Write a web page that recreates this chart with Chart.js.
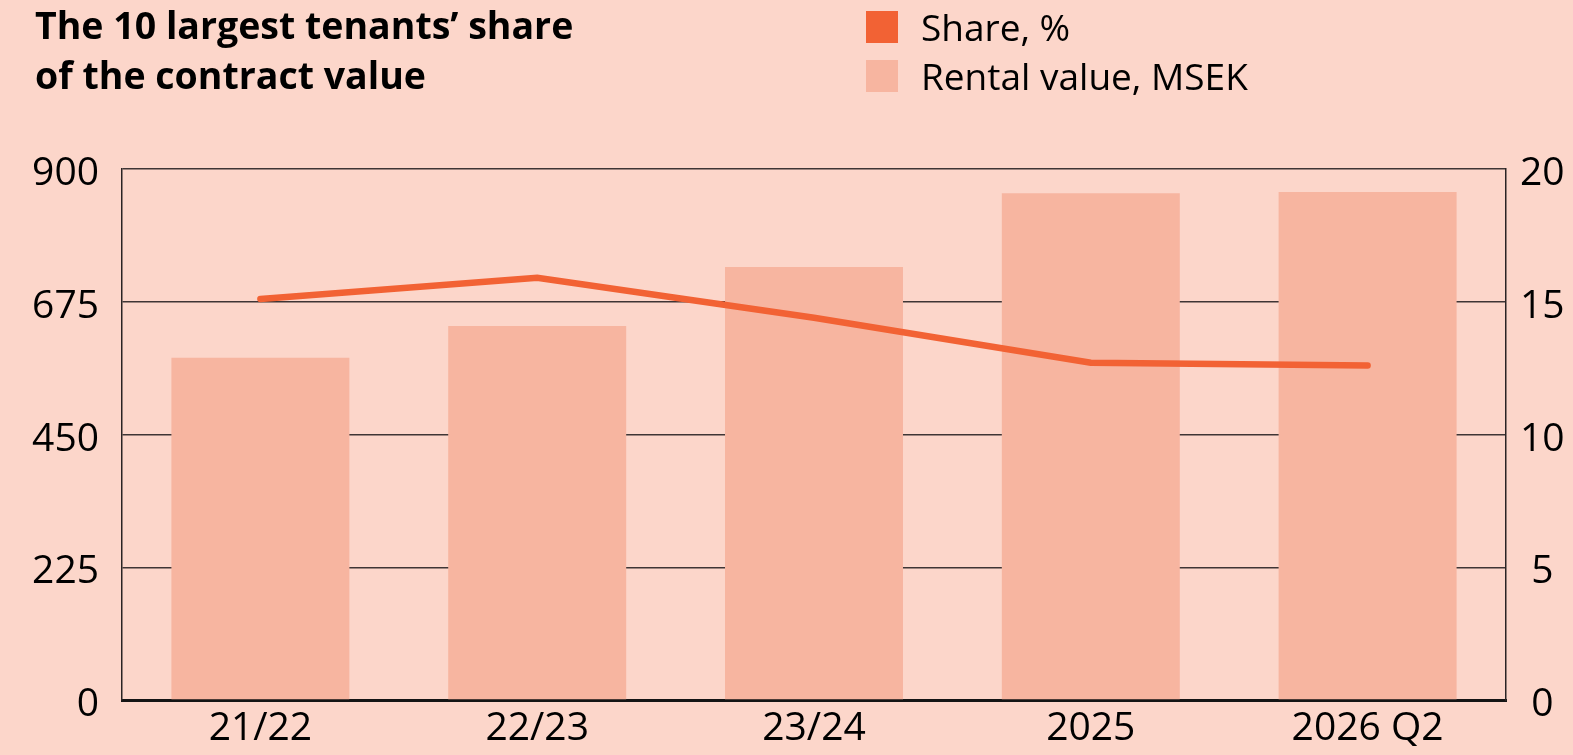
<!DOCTYPE html>
<html>
<head>
<meta charset="utf-8">
<script src="https://cdn.jsdelivr.net/npm/chart.js@4.4.1/dist/chart.umd.min.js"></script>
<style>
  html, body { margin: 0; padding: 0; background: #FCD6CA; }
  #wrap { position: relative; width: 1573px; height: 755px; overflow: hidden; }
  #c { position: absolute; left: 0; top: 0; }
  #title { position: absolute; left: 35px; top: 0px; font-family: "Open Sans", sans-serif; font-weight: 700;
           font-size: 37.5px; line-height: 50px; color: #000; white-space: nowrap; }
  #legend { position: absolute; left: 866px; top: 2px; font-family: "Open Sans", sans-serif; font-size: 37px;
            line-height: 49px; color: #000; white-space: nowrap; }
  .li { position: relative; padding-left: 55px; height: 49px; }
  .sw { position: absolute; left: 0; width: 32px; height: 32px; top: 9px; }
</style>
</head>
<body>
<div id="wrap">
  <canvas id="c" width="1573" height="755"></canvas>
  <div id="title">The 10 largest tenants’ share<br>of the contract value</div>
  <div id="legend">
    <div class="li"><span class="sw" style="background:#F26234"></span>Share, %</div>
    <div class="li"><span class="sw" style="background:#F7B5A0"></span>Rental value, MSEK</div>
  </div>
</div>
<script>
const categories = ['21/22', '22/23', '23/24', '2025', '2026 Q2'];
const rentalValue = [580, 634, 734, 859, 861];
const sharePct = [15.1, 15.9, 14.4, 12.7, 12.6];
const leftTicks = [0, 225, 450, 675, 900];
const rightTicks = [0, 5, 10, 15, 20];

const tickFont = { family: 'Open Sans', size: 39 };

new Chart(document.getElementById('c'), {
  data: {
    labels: categories,
    datasets: [
      {
        type: 'line', label: 'Share, %', data: sharePct, yAxisID: 'yR', order: 0,
        borderColor: '#F26234', borderWidth: 6.5, pointRadius: 0, borderCapStyle: 'round',
        borderJoinStyle: 'miter', tension: 0, fill: false
      },
      {
        type: 'bar', label: 'Rental value, MSEK', data: rentalValue, yAxisID: 'yL', order: 1,
        backgroundColor: '#F7B5A0', borderWidth: 0, categoryPercentage: 1, barPercentage: 0.643
      }
    ]
  },
  options: {
    responsive: false, animation: false,
    layout: { padding: { top: 169, left: 0, right: 0, bottom: 0 } },
    plugins: { legend: { display: false }, title: { display: false }, tooltip: { enabled: false } },
    scales: {
      x: {
        z: 1,
        grid: { display: false, drawTicks: false },
        border: { display: true, color: '#141414', width: 3 },
        ticks: { font: tickFont, color: '#000', padding: 5, maxRotation: 0, autoSkip: false },
        afterFit: s => { s.height = 55; }
      },
      yL: {
        position: 'left', min: 0, max: 900,
        afterBuildTicks: s => { s.ticks = leftTicks.map(v => ({ value: v })); },
        grid: { color: '#3e3535', lineWidth: 1.5, drawTicks: false },
        border: { display: true, color: '#2a2424', width: 1.5 },
        ticks: { font: tickFont, color: '#000', padding: 23, labelOffset: 5 },
        afterFit: s => { s.width = 122; }
      },
      yR: {
        position: 'right', min: 0, max: 20,
        afterBuildTicks: s => { s.ticks = rightTicks.map(v => ({ value: v })); },
        grid: { display: false, drawTicks: false },
        border: { display: true, color: '#2a2424', width: 1.5 },
        ticks: { font: tickFont, color: '#000', padding: 14, crossAlign: 'center', labelOffset: 5 },
        afterFit: s => { s.width = 67; }
      }
    }
  }
});
</script>
</body>
</html>
